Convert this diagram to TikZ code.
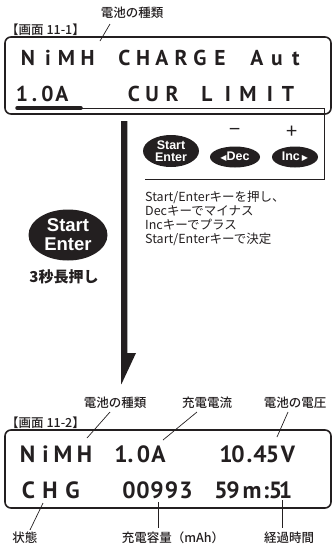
\documentclass[tikz,border=0pt]{standalone}
\usepackage{fontspec}
\setmainfont{Noto Sans CJK JP}
\newfontfamily\medf{Noto Sans CJK JP Medium}
\newfontfamily\symf{DejaVu Sans}
\newfontfamily\lcdf{PT Sans}
\newfontfamily\keyf{Liberation Sans}
\usetikzlibrary{shapes.geometric}
\definecolor{ink}{RGB}{35,31,32}
\begin{document}
\begin{tikzpicture}[x=1pt,y=-1pt,
  lcdbox/.style={draw=ink, line width=1.6pt, rounded corners=6pt},
  lcdA/.style={inner sep=0, anchor=base, text=ink, font=\lcdf\fontsize{21.5}{21.5}\selectfont\bfseries},
  lcdBc/.style={inner sep=0, anchor=base, text=ink, font=\lcdf\fontsize{23.5}{23.5}\selectfont\bfseries},
  lbl/.style={inner sep=0, text=ink, font=\medf\fontsize{12.5}{14}\selectfont},
  instr/.style={inner sep=0, anchor=base west, text=ink, font=\fontsize{12.5}{14}\selectfont},
  leader/.style={draw=ink, line width=0.7pt},
  keyshape/.style={ellipse, fill=ink, inner sep=0},
  keytext/.style={inner sep=0, text=white, align=center, font=\keyf\fontsize{12.5}{12.5}\selectfont\bfseries},
]
\useasboundingbox (0,0) rectangle (332,547);

% ---------- screen 11-1 ----------
\node[lbl, anchor=west] (scrA) at (6,30) {【画面 11-1】};
\node[lbl, anchor=center] (typeA) at (132,13) {電池の種類};
\draw[lcdbox] (5,37) rectangle (331,114);
\foreach \c/\x [count=\i] in {N/28,i/48,M/66.5,H/87.5,C/124.5,H/143,A/162,R/181,G/200,E/220,A/257,u/277,t/296}
  \node[lcdA] (ra\i) at (\x,65) {\c};
\foreach \c/\x [count=\i] in {1/22,./34.5,0/47.5,A/62,C/134,U/152,R/172,L/207,I/228,M/248,I/270,T/288}
  \node[lcdA] (rb\i) at (\x,101) {\c};
\coordinate (laA1) at (110,24);
\coordinate (laA2) at (100,41);
\draw[leader] (laA1) -- (laA2);

% underline + bracket
\coordinate (ul1) at (17,108);
\coordinate (ul2) at (81,108);
\coordinate (br1) at (324,108);
\coordinate (br2) at (324,179);
\coordinate (br3) at (145,179);
\draw[ink, line width=3.5pt, line cap=round] (ul1) -- (ul2);
\draw[ink, line width=0.8pt] (ul2) -- (br1) -- (br2) -- (br3);

% keys in bracket
\node[keyshape, minimum width=56pt, minimum height=32pt] (kse) at (171,151) {};
\node[keytext] at (kse) {Start\\Enter};
\node[keyshape, minimum width=50pt, minimum height=21pt] (kdec) at (235,157) {};
\node[keytext] at (kdec) {{\symf\fontsize{8}{8}\selectfont ◀}Dec};
\node[keyshape, minimum width=46pt, minimum height=21pt] (kinc) at (295,157) {};
\node[keytext] at (kinc) {Inc\,{\symf\fontsize{8}{8}\selectfont ▶}};
\node[inner sep=0, text=ink, font=\fontsize{20}{20}\selectfont] (minus) at (235,132) {−};
\node[inner sep=0, text=ink, font=\fontsize{20}{20}\selectfont] (plus) at (292,132) {+};

% instructions
\node[instr] (i1) at (145,201.5) {Start/Enterキーを押し、};
\node[instr] (i2) at (145,215.5) {Decキーでマイナス};
\node[instr] (i3) at (145,229.5) {Incキーでプラス};
\node[instr] (i4) at (145,243.5) {Start/Enterキーで決定};

% big key
\node[keyshape, minimum width=79pt, minimum height=51pt] (kbig) at (68,235) {};
\node[keytext, font=\keyf\fontsize{18.5}{19}\selectfont\bfseries] at (kbig) {Start\\Enter};
\node[inner sep=0, text=ink, font=\fontsize{15}{15}\selectfont\bfseries] (hold) at (64,277) {3秒長押し};

% big arrow
\fill[ink] (121,121) -- (127.3,121) -- (127.3,353) -- (136,353) -- (121.5,384) -- (121,384) -- cycle;

% ---------- screen 11-2 ----------
\node[lbl, anchor=west] (scrB) at (6,423) {【画面 11-2】};
\node[lbl] (typeB) at (115,403) {電池の種類};
\node[lbl] (curB) at (207,403) {充電電流};
\node[lbl] (voltB) at (295,403) {電池の電圧};
\draw[lcdbox] (5,430) rectangle (331,508);
\foreach \c/\x [count=\i] in {N/27.5,i/45.5,M/63,H/84.5,1/121,./130.5,0/143.5,A/158.5,1/226,0/238,./249.5,4/260,5/272.5,V/288}
  \node[lcdBc] (rc\i) at (\x,462) {\c};
\foreach \c/\x [count=\i] in {C/28.5,H/50,G/72.5,0/129,0/143,9/157,9/171.5,3/186,5/221,9/233,m/252,:/266,5/275.5,1/285.5}
  \node[lcdBc] (rd\i) at (\x,498) {\c};

\node[lbl] (stat) at (25,538) {状態};
\node[lbl] (capl) at (173,538) {充電容量（mAh）};
\node[lbl] (timel) at (289,538) {経過時間};

\coordinate (a1) at (110,412); \coordinate (a2) at (87,438);
\coordinate (b1) at (197,412); \coordinate (b2) at (163,440);
\coordinate (c1) at (288,412); \coordinate (c2) at (277,437);
\coordinate (d1) at (43,503);  \coordinate (d2) at (30,530);
\coordinate (e1) at (158,502); \coordinate (e2) at (158,528);
\coordinate (f1) at (282,500); \coordinate (f2) at (282,528);
\draw[leader] (a1) -- (a2);
\draw[leader] (b1) -- (b2);
\draw[leader] (c1) -- (c2);
\draw[leader] (d1) -- (d2);
\draw[leader] (e1) -- (e2);
\draw[leader] (f1) -- (f2);
\end{tikzpicture}
\end{document}
